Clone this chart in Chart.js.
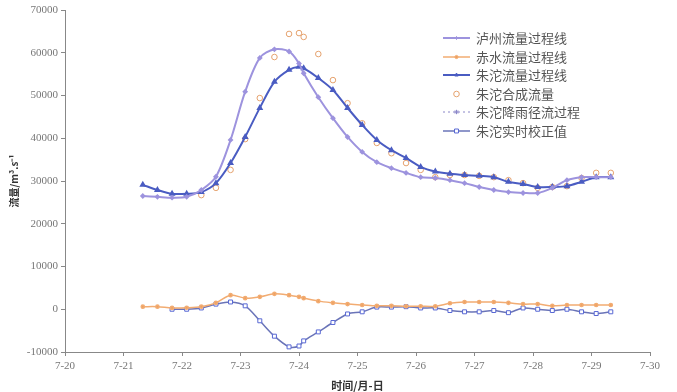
<!DOCTYPE html>
<html>
<head>
<meta charset="utf-8">
<script src="https://cdn.jsdelivr.net/npm/chart.js@4.4.1/dist/chart.umd.min.js"></script>
<style>
  html, body { margin: 0; padding: 0; background: #fff; }
  #wrap { position: relative; width: 677px; height: 392px; }
</style>
</head>
<body>
<div id="wrap"><canvas id="chart" width="677" height="392"></canvas></div>
<script>
// time in days of July (6-hourly, plus one midnight point at the peak)
const days = [21.33, 21.58, 21.83, 22.08, 22.33, 22.58, 22.83, 23.08, 23.33, 23.58, 23.83, 24.0,
              24.08, 24.33, 24.58, 24.83, 25.08, 25.33, 25.58, 25.83, 26.08, 26.33, 26.58, 26.83,
              27.08, 27.33, 27.58, 27.83, 28.08, 28.33, 28.58, 28.83, 29.08, 29.33];

// 泸州流量过程线
const luzhou = [26500, 26300, 26100, 26300, 27900, 31000, 39600, 50900, 58800, 60800, 60300, 57500,
                55200, 49600, 44700, 40300, 36800, 34400, 33000, 31900, 30900, 30700, 30200, 29500,
                28600, 27900, 27400, 27200, 27200, 28400, 30200, 30900, 30900, 30900];
// 赤水流量过程线
const chishui = [600, 600, 300, 350, 600, 1500, 3300, 2600, 2900, 3600, 3300, 2900,
                 2600, 1900, 1500, 1200, 1000, 800, 800, 700, 700, 700, 1400, 1700,
                 1700, 1700, 1500, 1200, 1200, 800, 1000, 1000, 1000, 1000];
// 朱沱流量过程线
const zhutuo = [29100, 27900, 27000, 27000, 27400, 29500, 34200, 40300, 47100, 53200, 56000, 56700,
                56400, 54100, 51300, 47100, 43100, 39600, 37200, 35400, 33300, 32200, 31700, 31400,
                31200, 30900, 29800, 29300, 28600, 28600, 28800, 29800, 30900, 30900];
// 朱沱合成流量
const synth = [null, null, null, null, 26700, 28400, 32600, 39800, 49400, 59000, 64400, 64600,
               63700, 59700, 53600, 48200, 43500, 38900, 36500, 34200, 32600, 30900, 31400, 31400,
               31200, 30900, 30200, 29500, 28400, 28600, 28800, 30700, 31900, 31900];
// 朱沱降雨径流过程 (legend only, no visible marks)
const runoff = [];
// 朱沱实时校正值
const correction = [null, null, 0, 0, 300, 1200, 1700, 800, -2700, -6300, -8800, -8600,
                    -7400, -5300, -3100, -1100, -600, 500, 500, 600, 300, 300, -300, -600,
                    -600, -300, -800, 300, 0, -300, 0, -600, -1000, -600];

const xTicks = [20, 21, 22, 23, 24, 25, 26, 27, 28, 29, 30];
const yTicks = [-10000, 0, 10000, 20000, 30000, 40000, 50000, 60000, 70000];

function pts(vals) {
    return vals.map((v, i) => ({ x: days[i], y: v }));
}

const series = [
    { label: '泸州流量过程线', data: pts(luzhou), borderColor: '#9d93de', backgroundColor: '#9d93de',
      borderWidth: 2, pointStyle: 'rectRot', pointRadius: 1.5, showLine: true },
    { label: '赤水流量过程线', data: pts(chishui), borderColor: '#f2ac72', backgroundColor: '#eda060',
      borderWidth: 1.5, pointStyle: 'circle', pointRadius: 1.6, showLine: true },
    { label: '朱沱流量过程线', data: pts(zhutuo), borderColor: '#4a5cc2', backgroundColor: '#4a5cc2',
      borderWidth: 2, pointStyle: 'triangle', pointRadius: 2, showLine: true },
    { label: '朱沱合成流量', data: pts(synth), borderColor: '#e5a26e', backgroundColor: '#fff',
      borderWidth: 1, pointStyle: 'circle', pointRadius: 2.8, showLine: false },
    { label: '朱沱降雨径流过程', data: runoff, borderColor: '#8a86c8', backgroundColor: '#8a86c8',
      borderWidth: 1, borderDash: [2, 3], pointStyle: 'star', pointRadius: 2.2, showLine: true },
    { label: '朱沱实时校正值', data: pts(correction), borderColor: '#6a74b8', backgroundColor: '#fff',
      pointBorderColor: '#5868d4', borderWidth: 1.5, pointBorderWidth: 1, pointStyle: 'rect',
      pointRadius: 2.8, showLine: true },
];

// legend drawn by hand inside the plot, as in the original figure
const legendPlugin = {
    id: 'boxLegend',
    afterDraw(chart) {
        const ctx = chart.ctx;
        const rows = [38, 57, 75, 94, 112, 131];
        ctx.save();
        series.forEach((s, i) => {
            const y = rows[i];
            if (s.showLine) {
                ctx.strokeStyle = s.borderColor;
                ctx.lineWidth = s.borderWidth;
                ctx.setLineDash(s.borderDash || []);
                ctx.beginPath();
                ctx.moveTo(443, y);
                ctx.lineTo(470, y);
                ctx.stroke();
                ctx.setLineDash([]);
            }
            ctx.fillStyle = s.backgroundColor;
            ctx.strokeStyle = s.pointBorderColor || s.borderColor;
            ctx.lineWidth = s.pointBorderWidth || 1;
            Chart.helpers.drawPoint(ctx, { pointStyle: s.pointStyle, radius: s.pointRadius, rotation: 0, borderWidth: 1 }, 456.5, y);
            ctx.fillStyle = '#555';
            ctx.font = '13px "Noto Sans CJK SC"';
            ctx.textBaseline = 'middle';
            ctx.fillText(s.label, 476, y);
        });
        ctx.restore();
    }
};

new Chart(document.getElementById('chart'), {
    type: 'scatter',
    data: { datasets: series.map(s => Object.assign({ fill: false, tension: 0.3, spanGaps: false }, s)) },
    options: {
        responsive: false,
        animation: false,
        layout: { padding: { left: 0, right: 27, top: 10, bottom: 0 } },
        plugins: { legend: { display: false }, tooltip: { enabled: false } },
        scales: {
            x: {
                type: 'linear', min: 20, max: 30,
                afterBuildTicks: s => { s.ticks = xTicks.map(v => ({ value: v })); },
                afterFit: s => { s.height = 40; },
                ticks: { callback: v => '7-' + v, color: '#777', padding: 4,
                         font: { family: '"Liberation Serif"', size: 11 }, maxRotation: 0 },
                grid: { drawOnChartArea: false, tickLength: 4, color: '#888' },
                border: { color: '#888' },
                title: { display: true, text: '时间/月-日', color: '#333', padding: 0,
                         font: { family: '"Noto Sans CJK SC"', size: 11, weight: 'bold' } },
            },
            y: {
                min: -10000, max: 70000,
                afterBuildTicks: s => { s.ticks = yTicks.map(v => ({ value: v })); },
                afterFit: s => { s.width = 65; },
                ticks: { callback: v => String(v), color: '#777', padding: 3,
                         font: { family: '"Liberation Serif"', size: 11 } },
                grid: { drawOnChartArea: false, tickLength: 4, color: '#888' },
                border: { color: '#888' },
                title: { display: true, text: '流量/m³.s⁻¹', color: '#333', padding: { top: 8 },
                         font: { family: '"Noto Sans CJK SC"', size: 10, weight: 'bold' } },
            },
        },
    },
    plugins: [legendPlugin],
});
</script>
</body>
</html>
